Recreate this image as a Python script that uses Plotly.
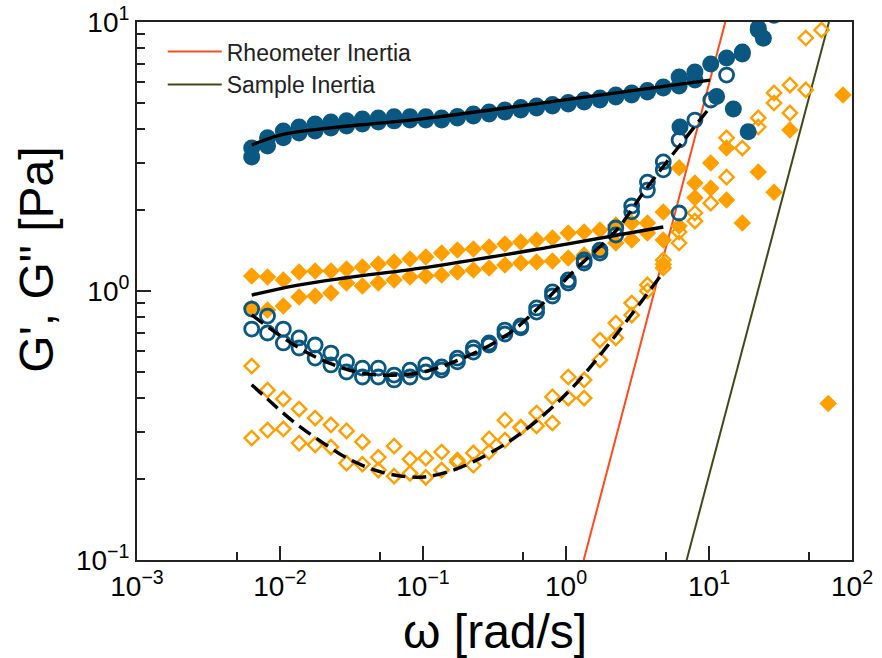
import plotly.graph_objects as go

# Angular frequency sweep (rad/s), shared by the replicate measurements
omega = [0.00634, 0.00818, 0.01055, 0.0136, 0.0176, 0.0227, 0.0292, 0.0377,
         0.0487, 0.0628, 0.0811, 0.1046, 0.135, 0.174, 0.225, 0.290, 0.374,
         0.483, 0.623, 0.804, 1.037, 1.339, 1.727, 2.23, 2.88, 3.71, 4.79,
         6.18, 7.97, 10.29, 13.27, 17.1, 22.1, 28.5, 36.8, 47.5, 61.2, 79.0]

# Sample 1 (blue): storage modulus G' [Pa], two runs
blue_gp_run1 = [3.40, 3.71, 3.93, 4.07, 4.18, 4.25, 4.29, 4.36, 4.40, 4.44, 4.44,
                4.44, 4.40, 4.45, 4.55, 4.63, 4.71, 4.81, 4.87, 4.94, 5.02, 5.13,
                5.22, 5.35, 5.45, 5.56, 5.73, 6.24, 6.52, 6.98, 7.35, 7.60, 9.34, 10.6]
blue_gp_run2 = [3.15, 3.46, 3.71, 3.87, 3.93, 4.04, 4.11, 4.18, 4.25, 4.29, 4.32,
                4.32, 4.32, 4.40, 4.47, 4.55, 4.63, 4.71, 4.79, 4.87, 4.96, 5.04,
                5.13, 5.26, 5.35, 5.49, 5.68, 5.78, 6.09]
blue_gp_hi_w = [6.27, 11.3, 14.8, 18.8, 24.0]
blue_gp_hi = [4.07, 5.28, 4.75, 3.91, 8.70]

# Sample 1 (blue): loss modulus G'' [Pa], two runs
blue_gpp_run1 = [0.857, 0.807, 0.722, 0.669, 0.630, 0.588, 0.545, 0.517, 0.517,
                 0.487, 0.508, 0.531, 0.522, 0.563, 0.614, 0.641, 0.716, 0.741,
                 0.865, 0.992, 1.099, 1.304, 1.420, 1.715, 2.07, 2.54, 3.02, 3.64,
                 4.32, 5.13, 6.35, 7.74, 9.50]
blue_gpp_run2 = [0.722, 0.698, 0.641, 0.614, 0.563, 0.531, 0.500, 0.479, 0.479,
                 0.467, 0.479, 0.500, 0.508, 0.545, 0.593, 0.630, 0.692, 0.729,
                 0.835, 0.958, 1.071, 1.271, 1.384, 1.615, 1.97, 2.37, 2.82, 1.95]

# Sample 2 (orange): storage modulus G' [Pa], two runs
orange_gp_run1 = [1.137, 1.127, 1.099, 1.177, 1.187, 1.187, 1.207, 1.228, 1.260,
                  1.282, 1.315, 1.338, 1.384, 1.420, 1.433, 1.457, 1.495, 1.521,
                  1.547, 1.574, 1.643, 1.657, 1.686, 1.760, 1.789, 1.789, 1.966,
                  2.87, 2.52, 2.99, 3.40, 1.789, 2.77, 2.33, 3.97]
orange_gp_run2 = [0.865, 0.850, 0.880, 0.950, 0.958, 0.983, 1.071, 1.044, 1.071,
                  1.099, 1.127, 1.137, 1.147, 1.177, 1.197, 1.218, 1.249, 1.271,
                  1.282, 1.293, 1.326, 1.361, 1.420, 1.508, 1.547, 1.643, 1.547,
                  1.745, 2.22, 2.41, 2.18]
orange_gp_hi_w = [4.79, 68.2, 86.5]
orange_gp_hi = [1.256, 0.382, 5.35]

# Sample 2 (orange): loss modulus G'' [Pa], two runs
orange_gpp_run1 = [0.526, 0.428, 0.397, 0.364, 0.337, 0.318, 0.302, 0.275, 0.241,
                   0.265, 0.237, 0.239, 0.252, 0.235, 0.250, 0.282, 0.331, 0.312,
                   0.352, 0.404, 0.479, 0.467, 0.657, 0.760, 0.902, 1.053, 1.304,
                   1.657, 1.95, 2.12, 3.71, 3.40, 4.40, 5.45, 5.83, 8.72, 9.34]
orange_gpp_run2 = [0.284, 0.304, 0.307, 0.272, 0.268, 0.263, 0.229, 0.227, 0.216,
                   0.205, 0.210, 0.203, 0.216, 0.231, 0.225, 0.252, 0.279, 0.310,
                   0.315, 0.323, 0.400, 0.400, 0.554, 0.669, 0.814, 1.000, 1.218,
                   1.508, 1.82, None, 2.65, None, 4.07, 5.00, 4.59, 5.59]

# Model fits
fit_blue_gp_w = [0.00634, 0.01, 0.0224, 0.050, 0.112, 1.066, 10.16]
fit_blue_gp = [3.49, 3.80, 4.04, 4.21, 4.40, 5.17, 6.08]
fit_orange_gp_w = [0.00634, 0.0131, 0.0292, 0.112, 0.733, 4.79]
fit_orange_gp = [0.966, 1.05, 1.12, 1.23, 1.45, 1.73]
fit_blue_gpp_w = [0.00634, 0.0131, 0.0224, 0.0383, 0.0655, 0.112, 0.385, 1.253,
                  2.26, 3.66, 10.45]
fit_blue_gpp = [0.815, 0.621, 0.538, 0.494, 0.487, 0.508, 0.686, 1.249, 1.686,
                2.41, 4.91]
fit_orange_gpp_w = [0.00634, 0.00807, 0.0124, 0.0201, 0.0309, 0.050, 0.0769, 0.106,
                    0.163, 0.225, 0.385, 0.658, 1.125, 1.928, 4.54]
fit_orange_gpp = [0.448, 0.399, 0.327, 0.272, 0.236, 0.213, 0.204, 0.204, 0.216,
                  0.232, 0.272, 0.337, 0.441, 0.621, 1.13]

# Inertia limits (G ~ omega^2)
rheometer_w = [1.33, 13.0]
rheometer_g = [0.1, 10.0]
sample_w = [6.98, 69.0]
sample_g = [0.1, 10.0]

# Axis ticks
x_tick_vals = [1e-3, 1e-2, 1e-1, 1e0, 1e1, 1e2]
x_tick_text = ["10<sup>\u22123</sup>", "10<sup>\u22122</sup>", "10<sup>\u22121</sup>",
               "10<sup>0</sup>", "10<sup>1</sup>", "10<sup>2</sup>"]
x_minor_vals = [5e-3, 5e-2, 5e-1, 5e0, 5e1]
y_tick_vals = [1e-1, 1e0, 1e1]
y_tick_text = ["10<sup>\u22121</sup>", "10<sup>0</sup>", "10<sup>1</sup>"]
y_minor_vals = [0.2, 0.3, 0.4, 0.5, 0.6, 0.7, 0.8, 0.9, 2, 3, 4, 5, 6, 7, 8, 9]

BLUE = "#0a5782"
ORANGE = "#ff9f00"
RED = "#ff4a1c"
OLIVE = "#3d4a17"
FONT = "Liberation Sans, Arial, sans-serif"

fig = go.Figure()

# inertia lines (legend entries)
fig.add_trace(go.Scatter(x=rheometer_w, y=rheometer_g, mode="lines",
                         line=dict(color=RED, width=2), name="Rheometer Inertia"))
fig.add_trace(go.Scatter(x=sample_w, y=sample_g, mode="lines",
                         line=dict(color=OLIVE, width=2), name="Sample Inertia"))


def markers(x, y, symbol, color, size, filled, lw=2.2):
    if filled:
        m = dict(symbol=symbol, size=size, color=color, line=dict(width=0))
    else:
        m = dict(symbol=symbol + "-open", size=size, color=color,
                 line=dict(width=lw, color=color))
    return go.Scatter(x=x, y=y, mode="markers", marker=m, showlegend=False,
                      hoverinfo="x+y")


# orange G''
fig.add_trace(markers(omega[:len(orange_gpp_run1)], orange_gpp_run1, "diamond", ORANGE, 11, False, 2.4))
fig.add_trace(markers(omega[:len(orange_gpp_run2)], orange_gpp_run2, "diamond", ORANGE, 11, False, 2.4))
# orange G'
fig.add_trace(markers(omega[:len(orange_gp_run1)], orange_gp_run1, "diamond", ORANGE, 13.5, True))
fig.add_trace(markers(omega[:len(orange_gp_run2)], orange_gp_run2, "diamond", ORANGE, 13.5, True))
fig.add_trace(markers(orange_gp_hi_w, orange_gp_hi, "diamond", ORANGE, 13.5, True))
# blue G''
fig.add_trace(markers(omega[:len(blue_gpp_run1)], blue_gpp_run1, "circle", BLUE, 14, False, 2.8))
fig.add_trace(markers(omega[:len(blue_gpp_run2)], blue_gpp_run2, "circle", BLUE, 14, False, 2.8))
# blue G'
fig.add_trace(markers(omega[:len(blue_gp_run1)], blue_gp_run1, "circle", BLUE, 17, True))
fig.add_trace(markers(omega[:len(blue_gp_run2)], blue_gp_run2, "circle", BLUE, 17, True))
fig.add_trace(markers(blue_gp_hi_w, blue_gp_hi, "circle", BLUE, 17, True))

# fits
for fx, fy, dash in [(fit_blue_gp_w, fit_blue_gp, "solid"),
                     (fit_orange_gp_w, fit_orange_gp, "solid"),
                     (fit_blue_gpp_w, fit_blue_gpp, "14px,7px"),
                     (fit_orange_gpp_w, fit_orange_gpp, "14px,7px")]:
    fig.add_trace(go.Scatter(x=fx, y=fy, mode="lines", showlegend=False,
                             line=dict(color="black", width=3.4, dash=dash,
                                       shape="spline", smoothing=1.0)))

axis_common = dict(type="log", ticks="inside", ticklen=14, tickwidth=1.6,
                   tickcolor="#222", showline=True, linecolor="#222", linewidth=2,
                   mirror=True, showgrid=False, zeroline=False, automargin=False,
                   tickfont=dict(size=28, color="black", family=FONT))

fig.update_xaxes(range=[-3, 2], tickvals=x_tick_vals, ticktext=x_tick_text,
                 minor=dict(tickvals=x_minor_vals, ticks="inside", ticklen=8,
                            tickwidth=1.6, tickcolor="#222", showgrid=False),
                 **axis_common)
fig.update_yaxes(range=[-1, 1], tickvals=y_tick_vals, ticktext=y_tick_text,
                 minor=dict(tickvals=y_minor_vals, ticks="inside", ticklen=8,
                            tickwidth=1.6, tickcolor="#222", showgrid=False),
                 **axis_common)

fig.update_layout(
    width=882, height=658,
    margin=dict(l=137, r=30, t=22, b=98),
    paper_bgcolor="white", plot_bgcolor="white",
    font=dict(family=FONT, color="black"),
    legend=dict(x=0.036, y=0.985, xanchor="left", yanchor="top",
                bgcolor="rgba(0,0,0,0)", font=dict(size=23, color="#222"),
                itemwidth=54, tracegroupgap=0),
    annotations=[
        dict(text="\u03c9 [rad/s]", xref="paper", yref="paper", x=0.5, y=-0.132,
             xanchor="center", yanchor="middle", showarrow=False,
             font=dict(size=48, color="black", family=FONT)),
        dict(text="G', G\" [Pa]", xref="paper", yref="paper", x=-0.14, y=0.558,
             xanchor="center", yanchor="middle", showarrow=False, textangle=-90,
             font=dict(size=48, color="black", family=FONT)),
    ],
)

fig.write_html("out.html")
